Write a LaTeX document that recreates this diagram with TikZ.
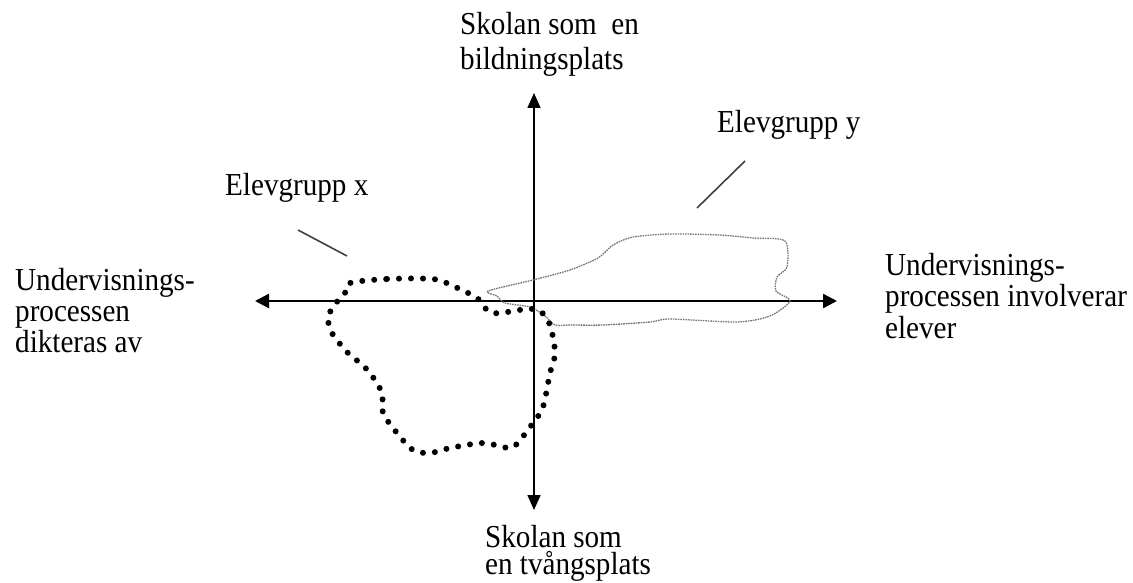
\documentclass[tikz,border=0pt]{standalone}
\usepackage{fontspec}
\setmainfont[FakeStretch=0.91]{Liberation Serif}
\usetikzlibrary{arrows.meta}
\tikzset{
  lbl/.style={anchor=base west, inner sep=0pt, align=left},
  axish/.style={line width=2.4pt, {Triangle[length=14pt,width=14pt]}-{Triangle[length=14pt,width=14pt]}},
  axisv/.style={line width=1.6pt, {Triangle[length=15pt,width=13pt]}-{Triangle[length=15pt,width=13pt]}},
  leader/.style={line width=1.6pt, draw=black!75},
  groupx/.style={line width=6pt, dash pattern=on 0pt off 12pt, line cap=round, black},
  groupy/.style={line width=1.3pt, dash pattern=on 1.6pt off 0.9pt, draw=black!55},
}
\begin{document}
\begin{tikzpicture}[x=1pt,y=-1pt]
\useasboundingbox (0,0) rectangle (1133,583);
% axes
\coordinate (L) at (255,301);
\coordinate (R) at (837,301);
\coordinate (T) at (534,93);
\coordinate (B) at (534,510);
\draw[axish] (L) -- (R);
\draw[axisv] (B) -- (T);
% labels (anchored at the baseline of their last line)
\node[lbl, font=\fontsize{32}{35}\selectfont] (top) at (460,70) {Skolan som\ \ en\\bildningsplats};
\node[lbl, font=\fontsize{32}{31}\selectfont] (left) at (15,352) {Undervisnings-\\processen\\dikteras av};
\node[lbl, font=\fontsize{32}{31.5}\selectfont] (right) at (885,338) {Undervisnings-\\processen involverar\\elever};
\node[lbl, font=\fontsize{32}{27}\selectfont] (bottom) at (485,574) {Skolan som\\en tvångsplats};
\node[lbl, font=\fontsize{32}{35}\selectfont] (gx) at (225,195) {Elevgrupp x};
\node[lbl, font=\fontsize{32}{35}\selectfont] (gy) at (717,133) {Elevgrupp y};
% leader lines
\coordinate (gxa) at (298,230);
\coordinate (gxb) at (347,256);
\coordinate (gya) at (745,161);
\coordinate (gyb) at (697,208);
\draw[leader] (gxa) -- (gxb);
\draw[leader] (gya) -- (gyb);
% group y (thin grey)
\draw[groupy] plot[smooth cycle, tension=0.45] coordinates {
 (488,291) (533,280) (570,270) (598,258) (613,245) (633,237) (670,234) (720,235) (753,238) (785,241)
 (787,267) (777,277) (776,291) (790,301)
 (770,316) (737,322) (670,319) (650,322) (603,325) (570,325) (555,325)
 (545,316) (530,307) (505,303) (497,296)};
% group x (thick dots)
\draw[groupx] plot[smooth cycle, tension=0.5] coordinates {
 (350,283) (387,279) (433,279) (453,286) (477,298) (492,313) (527,309) (540,311)
 (550,325) (555,353) (550,373) (543,407) (533,423) (520,440) (510,448) (483,443)
 (450,448) (430,453) (413,450) (397,433) (383,413) (382,393) (370,373) (360,363)
 (347,352) (332,333) (328,317) (336,303) (345,293)};
\end{tikzpicture}
\end{document}
